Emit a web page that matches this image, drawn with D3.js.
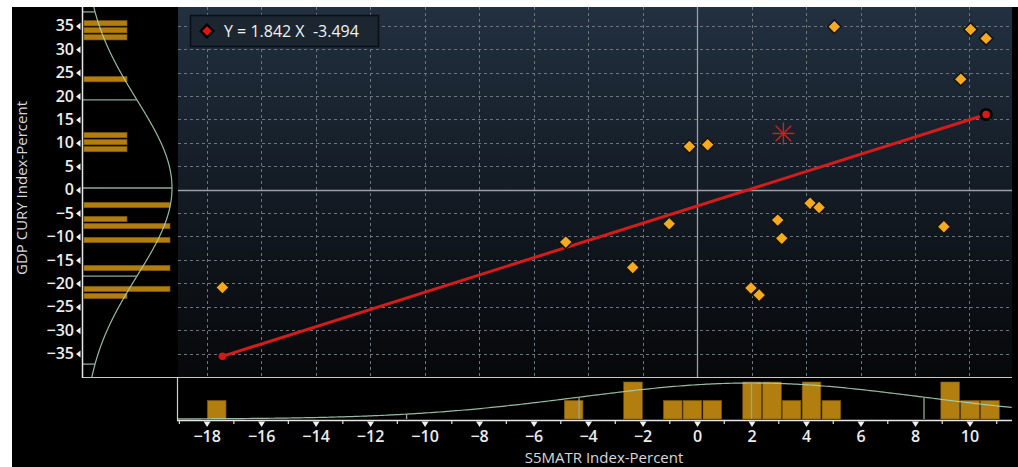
<!DOCTYPE html>
<html><head><meta charset="utf-8">
<script src="https://cdn.jsdelivr.net/npm/d3@7"></script>
<style>
html,body{margin:0;padding:0;background:#fff;}
svg{display:block;font-family:"Open Sans",sans-serif;}
</style></head><body>
<svg id="chart" width="1018" height="467"></svg>
<script>
// S5MATR vs GDP CURY, yearly percent changes
const xValues = [-17.42, -4.82, -2.36, -1.02, -0.28, 0.39, 1.98, 2.28, 2.96, 3.11, 4.15, 4.48, 5.04, 9.06, 9.68, 10.04, 10.61];
const yValues = [-20.9, -11.2, -16.6, -7.3, 9.2, 9.6, -21.0, -22.5, -6.5, -10.4, -2.9, -3.8, 34.8, -7.9, 23.6, 34.2, 32.3];
const currentPoint = [3.17, 12.0];
const slope = 1.842, intercept = -3.494;
const legendText = "Y = 1.842 X  -3.494";

// marginal histograms (bin centre, count)
const xHistCenters = [-17.63, -4.53, -2.35, -0.89, -0.17, 0.56, 2.02, 2.75, 3.47, 4.20, 4.93, 9.29, 10.02, 10.75];
const xHistCounts  = [1, 1, 2, 1, 1, 1, 2, 2, 1, 2, 1, 2, 1, 1];
const xBinWidth = 0.7277;
const yHistCenters = [35.53, 34.04, 32.54, 23.59, 11.64, 10.15, 8.66, -3.29, -6.27, -7.77, -10.75, -16.73, -21.2, -22.7];
const yHistCounts  = [1, 1, 1, 1, 1, 1, 1, 2, 1, 2, 2, 2, 2, 1];
const yBinWidth = 1.493;

// normal fit of each marginal
const xMean = 2.0, xSd = 6.33;
const yMean = 0.35, ySd = 18.8;
const xSigmaMarks = [-2, -1, 0, 1];
const ySigmaMarks = [-2, -1, 0, 1, 2];

const xTicks = [-18, -16, -14, -12, -10, -8, -6, -4, -2, 0, 2, 4, 6, 8, 10];
const xMinorTicks = [-19, -17, -15, -13, -11, -9, -7, -5, -3, -1, 1, 3, 5, 7, 9, 11];
const yTicks = [-35, -30, -25, -20, -15, -10, -5, 0, 5, 10, 15, 20, 25, 30, 35];
const xTitle = "S5MATR Index-Percent";
const yTitle = "GDP CURY Index-Percent";

const svg = d3.select("#chart");
const L = 178, R = 1012, T = 7, B = 377;
const xAxisY = 420, yAxisX = 82;

const x = d3.scaleLinear().domain([-19.05, 11.56]).range([L, R]);
const y = d3.scaleLinear().domain([-40, 39]).range([B, T]);
const xCount = d3.scaleLinear().domain([0, 2]).range([419, 382]);
const yCount = d3.scaleLinear().domain([0, 2]).range([84, 170]);
const xCurve = d3.scaleLinear().domain([0, 1]).range([419, 383]);
const yCurve = d3.scaleLinear().domain([0, 1]).range([83, 172]);

const defs = svg.append("defs");
const bg = defs.append("linearGradient").attr("id", "bg").attr("x1", 0).attr("y1", 0).attr("x2", 0).attr("y2", 1);
bg.append("stop").attr("offset", "0%").attr("stop-color", "#223040");
bg.append("stop").attr("offset", "50%").attr("stop-color", "#131b24");
bg.append("stop").attr("offset", "100%").attr("stop-color", "#07080a");
const edge = defs.append("linearGradient").attr("id", "edge").attr("x1", 0).attr("y1", 0).attr("x2", 0).attr("y2", 1);
edge.append("stop").attr("offset", "0%").attr("stop-color", "#7e8890");
edge.append("stop").attr("offset", "45%").attr("stop-color", "#a89070");
edge.append("stop").attr("offset", "100%").attr("stop-color", "#c8964a");

// black frame
svg.append("rect").attr("x", 12).attr("y", 7).attr("width", 1006).attr("height", 460).attr("fill", "#000");
// plot area
svg.append("rect").attr("x", L).attr("y", T).attr("width", R - L).attr("height", B - T).attr("fill", "url(#bg)");

// grid
const grid = svg.append("g").attr("stroke", "#6c757e").attr("stroke-width", 1).attr("stroke-dasharray", "3,3");
grid.selectAll("line.v").data(xTicks.filter(d => d !== 0)).join("line")
  .attr("x1", d => Math.round(x(d)) + 0.5).attr("x2", d => Math.round(x(d)) + 0.5)
  .attr("y1", T).attr("y2", B);
grid.selectAll("line.h").data(yTicks.filter(d => d !== 0)).join("line")
  .attr("x1", L).attr("x2", R)
  .attr("y1", d => Math.round(y(d)) + 0.5).attr("y2", d => Math.round(y(d)) + 0.5);
svg.append("line").attr("x1", Math.round(x(0)) + 0.5).attr("x2", Math.round(x(0)) + 0.5).attr("y1", T).attr("y2", B)
  .attr("stroke", "#9aa0a6").attr("stroke-width", 1.3);
svg.append("line").attr("x1", L).attr("x2", R).attr("y1", Math.round(y(0)) + 0.5).attr("y2", Math.round(y(0)) + 0.5)
  .attr("stroke", "#9aa0a6").attr("stroke-width", 1.3);

// plot edges
svg.append("line").attr("x1", L - 0.5).attr("x2", L - 0.5).attr("y1", T).attr("y2", B).attr("stroke", "url(#edge)").attr("stroke-width", 1.5);
svg.append("line").attr("x1", yAxisX).attr("x2", R).attr("y1", B + 0.5).attr("y2", B + 0.5).attr("stroke", "#c8c8c8").attr("stroke-width", 1.2);
svg.append("line").attr("x1", L - 0.5).attr("x2", L - 0.5).attr("y1", B).attr("y2", xAxisY).attr("stroke", "#cfcfcf").attr("stroke-width", 1.2);

// marginal histogram: x
svg.append("g").selectAll("rect").data(xHistCenters).join("rect")
  .attr("x", d => x(d - xBinWidth / 2) + 0.6)
  .attr("width", d => x(d + xBinWidth / 2) - x(d - xBinWidth / 2) - 1.2)
  .attr("y", (d, i) => xCount(xHistCounts[i]))
  .attr("height", (d, i) => xCount(0) - xCount(xHistCounts[i]))
  .attr("fill", "#b27e10").attr("stroke", "#7c5609").attr("stroke-width", 0.6);

// marginal histogram: y
svg.append("g").selectAll("rect").data(yHistCenters).join("rect")
  .attr("y", d => y(d + yBinWidth / 2) + 0.8)
  .attr("height", d => y(d - yBinWidth / 2) - y(d + yBinWidth / 2) - 1.6)
  .attr("x", yCount(0))
  .attr("width", (d, i) => yCount(yHistCounts[i]) - yCount(0))
  .attr("fill", "#b27e10").attr("stroke", "#7c5609").attr("stroke-width", 0.6);

// normal fits
const gauss = (v, m, s) => Math.exp(-0.5 * ((v - m) / s) ** 2);
const xs = d3.range(-19.05, 11.57, 0.1);
svg.append("path")
  .attr("d", d3.line().x(v => x(v)).y(v => xCurve(gauss(v, xMean, xSd)))(xs))
  .attr("fill", "none").attr("stroke", "#a6d0b0").attr("stroke-width", 1.2).attr("opacity", 0.9);
const ys = d3.range(-40, 39.01, 0.2);
svg.append("path")
  .attr("d", d3.line().y(v => y(v)).x(v => yCurve(gauss(v, yMean, ySd)))(ys))
  .attr("fill", "none").attr("stroke", "#a6d0b0").attr("stroke-width", 1.2).attr("opacity", 0.9);

svg.append("g").selectAll("line").data(xSigmaMarks).join("line")
  .attr("x1", k => x(xMean + k * xSd)).attr("x2", k => x(xMean + k * xSd))
  .attr("y1", xCurve(0)).attr("y2", k => xCurve(gauss(xMean + k * xSd, xMean, xSd)))
  .attr("stroke", "#8fa898").attr("stroke-width", 1.3);
svg.append("g").selectAll("line").data(ySigmaMarks).join("line")
  .attr("y1", k => y(yMean + k * ySd)).attr("y2", k => y(yMean + k * ySd))
  .attr("x1", yCurve(0)).attr("x2", k => yCurve(gauss(yMean + k * ySd, yMean, ySd)))
  .attr("stroke", "#8fa898").attr("stroke-width", 1.3);

// x axis
svg.append("line").attr("x1", L - 1).attr("x2", R).attr("y1", xAxisY + 0.5).attr("y2", xAxisY + 0.5)
  .attr("stroke", "#e6e6e6").attr("stroke-width", 1.5);
const xAxis = d3.axisBottom(x).tickValues(xTicks).tickSize(0).tickPadding(11).tickFormat(d3.format("d"));
const gx = svg.append("g").attr("transform", `translate(0,${xAxisY})`).call(xAxis);
gx.select(".domain").remove();
gx.selectAll(".tick text").attr("fill", "#ededed").attr("font-size", 16).attr("font-weight", 600)
  .attr("font-family", "Open Sans, sans-serif");
gx.selectAll(".tick").append("path").attr("d", "M-3.5,1.5L3.5,1.5L0,7Z").attr("fill", "#f0f0f0");
svg.append("g").selectAll("line").data(xMinorTicks).join("line")
  .attr("x1", d => x(d)).attr("x2", d => x(d)).attr("y1", xAxisY).attr("y2", xAxisY + 4)
  .attr("stroke", "#e0e0e0").attr("stroke-width", 1.2);

// y axis
svg.append("line").attr("x1", yAxisX + 0.5).attr("x2", yAxisX + 0.5).attr("y1", T).attr("y2", B + 1)
  .attr("stroke", "#e6e6e6").attr("stroke-width", 1.5);
const yAxis = d3.axisLeft(y).tickValues(yTicks).tickSize(0).tickPadding(8).tickFormat(d3.format("d"));
const gy = svg.append("g").attr("transform", `translate(${yAxisX},0)`).call(yAxis);
gy.select(".domain").remove();
gy.selectAll(".tick text").attr("fill", "#ededed").attr("font-size", 16).attr("font-weight", 600)
  .attr("font-family", "Open Sans, sans-serif");
gy.selectAll(".tick").append("path").attr("d", "M-1.5,-3.5L-1.5,3.5L-6,0Z").attr("fill", "#f0f0f0");

// axis titles
svg.append("text").attr("x", 604).attr("y", 463).attr("text-anchor", "middle")
  .attr("font-size", 15).attr("font-weight", 500).attr("fill", "#d8d8d8").text(xTitle);
svg.append("text").attr("transform", "translate(27,188) rotate(-90)").attr("text-anchor", "middle")
  .attr("font-size", 15).attr("font-weight", 500).attr("fill", "#d8d8d8").text(yTitle);

// regression line over the X range
const xMin = d3.min(xValues), xMax = d3.max(xValues);
const fit = v => slope * v + intercept;
svg.append("line").attr("x1", x(xMin)).attr("y1", y(fit(xMin))).attr("x2", x(xMax)).attr("y2", y(fit(xMax)))
  .attr("stroke", "#d41c1c").attr("stroke-width", 3);
svg.append("circle").attr("cx", x(xMin)).attr("cy", y(fit(xMin))).attr("r", 3.8).attr("fill", "#d41818");

// scatter points
const diamond = d3.symbol(d3.symbolSquare, 92);
svg.append("g").selectAll("path").data(xValues).join("path")
  .attr("d", diamond)
  .attr("transform", (d, i) => `translate(${x(d)},${y(yValues[i])}) rotate(45)`)
  .attr("fill", "#f7aa1e").attr("stroke", "#141414").attr("stroke-width", 1.5);

svg.append("circle").attr("cx", x(xMax)).attr("cy", y(fit(xMax))).attr("r", 5.2)
  .attr("fill", "#e01515").attr("stroke", "#050505").attr("stroke-width", 2.8);

// current observation
const star = svg.append("g").attr("transform", `translate(${x(currentPoint[0])},${y(currentPoint[1])})`);
star.selectAll("line").data([0, 45, 90, 135]).join("line")
  .attr("x1", -11).attr("x2", 11).attr("y1", 0).attr("y2", 0)
  .attr("transform", a => `rotate(${a})`)
  .attr("stroke", "#c82222").attr("stroke-width", 1.4);

// legend
const lg = svg.append("g");
lg.append("rect").attr("x", 190.5).attr("y", 15.5).attr("width", 188).attr("height", 31)
  .attr("fill", "#1b2631").attr("stroke", "#0a0f14").attr("stroke-width", 1.5);
lg.append("path").attr("d", d3.symbol(d3.symbolSquare, 80)).attr("transform", "translate(207,31) rotate(45)")
  .attr("fill", "#e41212").attr("stroke", "#000").attr("stroke-width", 2.2);
lg.append("text").attr("x", 224).attr("y", 37).attr("font-size", 16).attr("font-weight", 500).attr("fill", "#f2f2f2")
  .style("white-space", "pre").text(legendText);
</script>
</body></html>
